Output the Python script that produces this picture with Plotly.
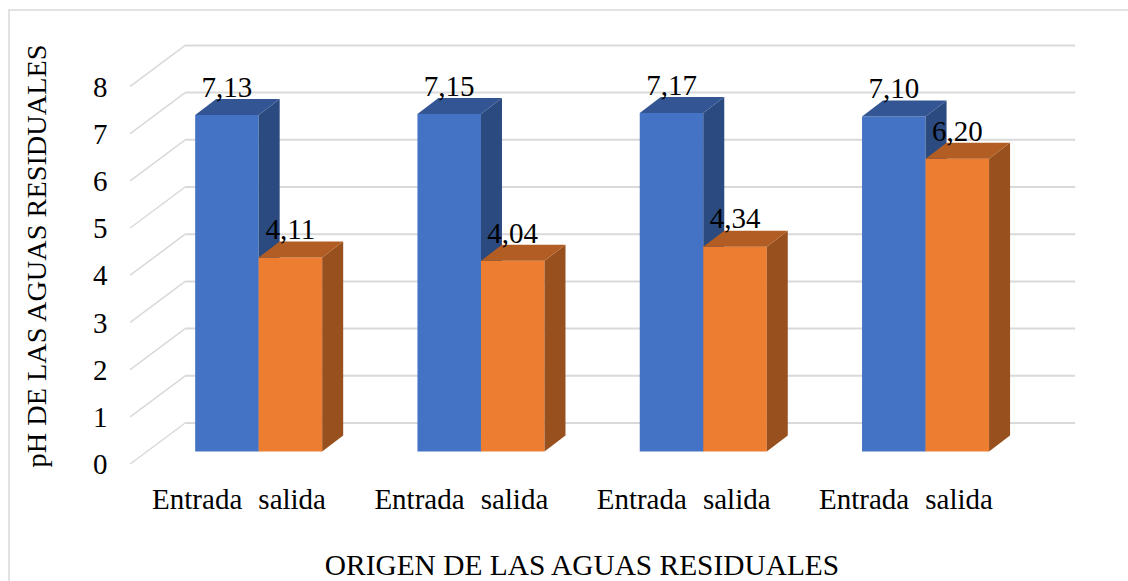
import plotly.graph_objects as go

# Data
group_index = [0, 1, 2, 3]
entrada_values = [7.13, 7.15, 7.17, 7.10]
salida_values = [4.11, 4.04, 4.34, 6.20]
y_ticks = [0, 1, 2, 3, 4, 5, 6, 7, 8]
series_names = ["Entrada", "salida"]
x_title = "ORIGEN DE LAS AGUAS RESIDUALES"
y_title = "pH DE LAS AGUAS RESIDUALES"

# Geometry in data units
BAR_W = 0.2857
DEPTH_X, DEPTH_Y = 21 / 222.3, 16 / 47.2
FLOOR_FRONT_Y = -0.265
WALL_Y = 0.604
WALL_X0, WALL_X1, DIAG_X0 = -0.3306, 3.673, -0.578
X_RANGE = [-0.7678, 3.6768]
Y_RANGE = [-0.646, 8.93]
LABEL_UP = 0.54
SERIF = "Liberation Serif"
FS = 29
GRID = "#D9D9D9"

fig = go.Figure()

# Walls: horizontal lines and diagonal floor/wall lines
hx, hy, dx, dy = [], [], [], []
for t in y_ticks:
    hx += [WALL_X0, WALL_X1, None]
    hy += [t + WALL_Y, t + WALL_Y, None]
    dx += [DIAG_X0, WALL_X0, None]
    dy += [t + FLOOR_FRONT_Y, t + WALL_Y, None]
fig.add_trace(go.Scatter(x=hx, y=hy, mode="lines", line=dict(color=GRID, width=2),
                         hoverinfo="skip", showlegend=False))
fig.add_trace(go.Scatter(x=dx, y=dy, mode="lines", line=dict(color=GRID, width=1.5),
                         hoverinfo="skip", showlegend=False))


def add_series(values, left_offset, front, side, top, ax_x, ax_y, name):
    xs = [g + left_offset + BAR_W / 2 for g in group_index]
    fig.add_trace(go.Bar(x=xs, y=values, width=BAR_W, marker=dict(color=front, line=dict(width=0)),
                         name=name, xaxis=ax_x, yaxis=ax_y, showlegend=False))
    for xc, v in zip(xs, values):
        l, r = xc - BAR_W / 2, xc + BAR_W / 2
        fig.add_trace(go.Scatter(
            x=[r, r + DEPTH_X, r + DEPTH_X, r, r], y=[0, DEPTH_Y, v + DEPTH_Y, v, 0],
            mode="lines", fill="toself", fillcolor=side, line=dict(width=0),
            hoverinfo="skip", showlegend=False, xaxis=ax_x, yaxis=ax_y))
        fig.add_trace(go.Scatter(
            x=[l, r, r + DEPTH_X, l + DEPTH_X, l], y=[v, v, v + DEPTH_Y, v + DEPTH_Y, v],
            mode="lines", fill="toself", fillcolor=top, line=dict(width=0),
            hoverinfo="skip", showlegend=False, xaxis=ax_x, yaxis=ax_y))
    return xs


xs_e = add_series(entrada_values, -BAR_W, "#4472C4", "#2B4A80", "#335593", "x2", "y2", series_names[0])
xs_s = add_series(salida_values, 0, "#ED7D31", "#97501E", "#B25D23", "x3", "y3", series_names[1])

# Data labels
for xs, vals in ((xs_e, entrada_values), (xs_s, salida_values)):
    fig.add_trace(go.Scatter(
        x=xs, y=[v + LABEL_UP for v in vals], mode="text",
        text=[f"{v:.2f}".replace(".", ",") for v in vals],
        textposition="middle center", textfont=dict(family=SERIF, size=FS, color="black"),
        hoverinfo="skip", showlegend=False, xaxis="x3", yaxis="y3"))

tickvals_x, ticktext_x = [], []
for g in group_index:
    tickvals_x += [g - 0.2767, g + 0.1507]
    ticktext_x += series_names

hidden = dict(visible=False, fixedrange=True)
fig.update_layout(
    width=1128, height=581, margin=dict(l=88, r=52, t=30, b=99),
    paper_bgcolor="white", plot_bgcolor="white",
    showlegend=False, barmode="overlay",
    font=dict(family=SERIF, size=FS, color="black"),
    xaxis=dict(range=X_RANGE, tickmode="array", tickvals=tickvals_x, ticktext=ticktext_x,
               showgrid=False, zeroline=False, showline=False, ticks="", ticklabelstandoff=-3,
               automargin=False,
               tickfont=dict(family=SERIF, size=FS, color="black"),
               title=dict(text=x_title, font=dict(family=SERIF, size=29.4), standoff=40)),
    yaxis=dict(range=Y_RANGE, tickmode="array",
               tickvals=[t + FLOOR_FRONT_Y for t in y_ticks], ticktext=[str(t) for t in y_ticks],
               ticklabelposition="inside", showgrid=False, zeroline=False, showline=False, ticks="",
               ticklabelstandoff=2, automargin=False,
               tickfont=dict(family=SERIF, size=FS, color="black"),
               title=dict(text=y_title, font=dict(family=SERIF, size=28.3), standoff=38)),
    xaxis2=dict(range=X_RANGE, overlaying="x", anchor="y2", **hidden),
    yaxis2=dict(range=Y_RANGE, overlaying="y", anchor="x2", **hidden),
    xaxis3=dict(range=X_RANGE, overlaying="x", anchor="y3", **hidden),
    yaxis3=dict(range=Y_RANGE, overlaying="y", anchor="x3", **hidden),
    shapes=[dict(type="rect", xref="paper", yref="paper",
                 x0=(9 - 88) / 988, x1=(1150 - 88) / 988,
                 y0=(482 - 620) / 452, y1=(482 - 10) / 452,
                 line=dict(color="#D9D9D9", width=1.5), fillcolor="rgba(0,0,0,0)", layer="below")],
)

fig.write_html("out.html", config={"displayModeBar": False},
               post_script="document.body.style.margin='0';")
